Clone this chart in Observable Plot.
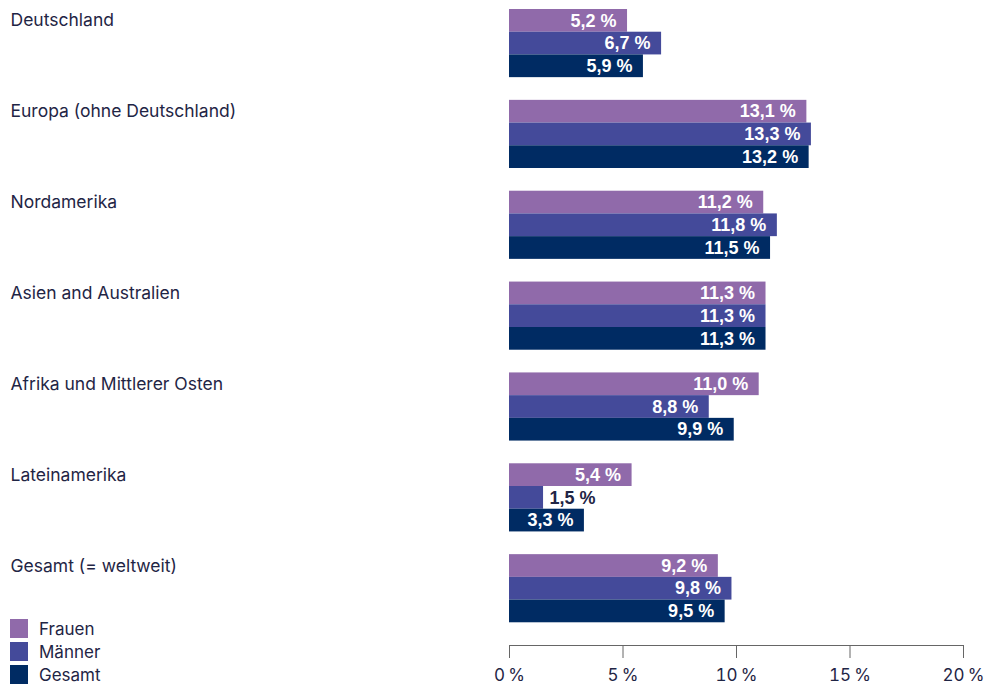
<!DOCTYPE html>
<html>
<head>
<meta charset="utf-8">
<script src="https://cdn.jsdelivr.net/npm/d3@7"></script>
<script src="https://cdn.jsdelivr.net/npm/@observablehq/plot@0.6"></script>
<style>
  html, body { margin: 0; padding: 0; background: #fff; }
  #wrap { position: relative; width: 1000px; height: 686px; }
  #legend { position: absolute; left: 10px; top: 617px; font-family: Inter, "Noto Sans", sans-serif; font-size: 17px; color: #1f2545; }
  #legend .item { display: flex; align-items: center; height: 23px; }
  #legend .sw { width: 18px; height: 19px; margin-right: 11px; }
</style>
</head>
<body>
<div id="wrap"><div id="legend"></div></div>
<script>
const categories = ["Deutschland", "Europa (ohne Deutschland)", "Nordamerika", "Asien and Australien", "Afrika und Mittlerer Osten", "Lateinamerika", "Gesamt (= weltweit)"];
const seriesNames = ["Frauen", "Männer", "Gesamt"];
const frauen = [5.2, 13.1, 11.2, 11.3, 11.0, 5.4, 9.2];
const maenner = [6.7, 13.3, 11.8, 11.3, 8.8, 1.5, 9.8];
const gesamt = [5.9, 13.2, 11.5, 11.3, 9.9, 3.3, 9.5];
const colors = ["#906aaa", "#444a9a", "#002b63"];
const xTicks = [0, 5, 10, 15, 20];

const seriesValues = [frauen, maenner, gesamt];
const rows = [];
categories.forEach((c, i) => seriesNames.forEach((s, j) => rows.push({cat: c, series: s, key: c + "|" + s, value: seriesValues[j][i]})));
const yDomain = categories.flatMap(c => [...seriesNames.map(s => c + "|" + s), c + "|gap"]);
const fmt = v => v.toFixed(1).replace(".", ",") + " %";

const chart = Plot.plot({
  width: 1000,
  height: 686,
  marginLeft: 509,
  marginRight: 37,
  marginTop: 9,
  marginBottom: 41,
  style: {fontFamily: "Inter, 'Noto Sans', sans-serif", color: "#1f2545", background: "#fff"},
  x: {domain: [0, 20]},
  y: {domain: yDomain, padding: 0, round: false, axis: null},
  color: {domain: seriesNames, range: colors},
  marks: [
    Plot.barX(rows, {x: "value", y: "key", fill: "series"}),
    Plot.text(rows.filter(d => d.value >= 2.5), {x: "value", y: "key", text: d => fmt(d.value), textAnchor: "end", dx: -11, fill: "white", fontWeight: "bold", fontSize: 18, fontFamily: "'Liberation Sans', Arial, sans-serif"}),
    Plot.text(rows.filter(d => d.value < 2.5), {x: "value", y: "key", text: d => fmt(d.value), textAnchor: "start", dx: 6, fill: "#1f2545", fontWeight: "bold", fontSize: 18, fontFamily: "'Liberation Sans', Arial, sans-serif"}),
    Plot.text(categories, {y: d => d + "|Frauen", text: d => d, frameAnchor: "left", textAnchor: "start", dx: -499, fontSize: 17.5, fill: "#1f2545"}),
    Plot.frame({anchor: "bottom", stroke: "#666"}),
    Plot.axisX({ticks: xTicks, tickSize: 13, tickPadding: 10, tickFormat: d => d + "\u2009%", fontSize: 17, stroke: "#666", label: null})
  ]
});
document.getElementById("wrap").prepend(chart);

const legend = document.getElementById("legend");
seriesNames.forEach((s, i) => {
  const item = document.createElement("div");
  item.className = "item";
  item.innerHTML = `<div class="sw" style="background:${colors[i]}"></div><span>${s}</span>`;
  legend.appendChild(item);
});
</script>
</body>
</html>
